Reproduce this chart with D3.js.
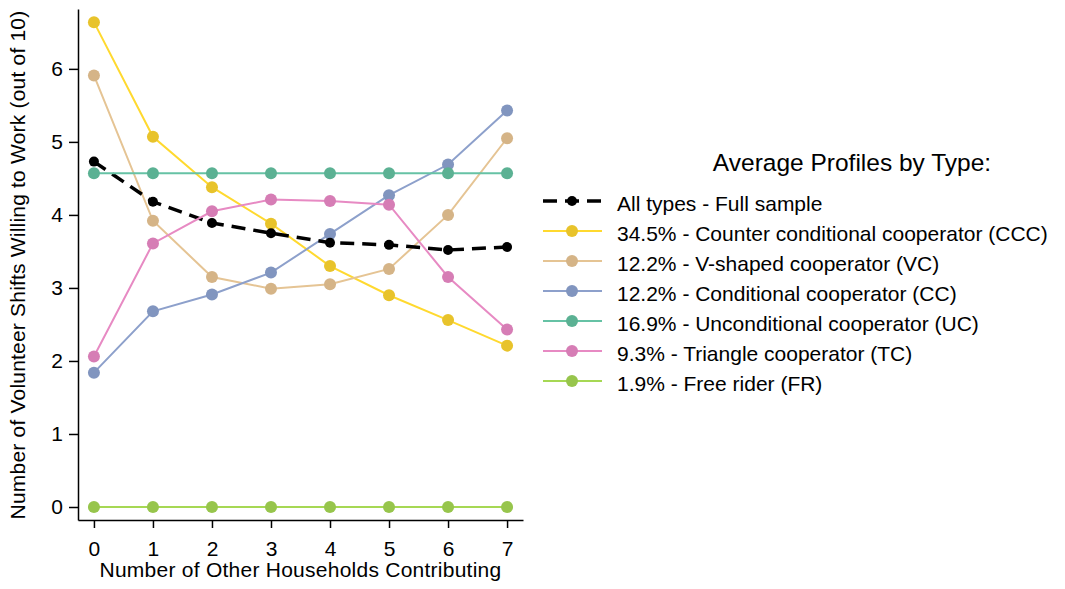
<!DOCTYPE html>
<html><head><meta charset="utf-8">
<script src="https://cdn.jsdelivr.net/npm/d3@7"></script>
<style>body{margin:0;background:#fff}svg{display:block;font-family:"Liberation Sans",Arial,sans-serif}</style>
</head><body><svg id="c" width="1065" height="589"></svg>
<script>
const xValues = [0,1,2,3,4,5,6,7];
const yTicks = [0,1,2,3,4,5,6];
const seriesNames = [
  "All types - Full sample",
  "34.5% - Counter conditional cooperator (CCC)",
  "12.2% - V-shaped cooperator (VC)",
  "12.2% - Conditional cooperator (CC)",
  "16.9% - Unconditional cooperator (UC)",
  "9.3% - Triangle cooperator (TC)",
  "1.9% - Free rider (FR)"
];
const allTypes = [4.73,4.18,3.89,3.75,3.62,3.59,3.52,3.56];
const ccc = [6.64,5.07,4.38,3.88,3.30,2.90,2.56,2.21];
const vc  = [5.91,3.92,3.15,2.99,3.05,3.26,4.00,5.05];
const cc  = [1.84,2.68,2.91,3.21,3.74,4.27,4.69,5.43];
const uc  = [4.57,4.57,4.57,4.57,4.57,4.57,4.57,4.57];
const tc  = [2.06,3.61,4.05,4.21,4.19,4.14,3.15,2.43];
const fr  = [0,0,0,0,0,0,0,0];
const lineColors   = ["#000000","#FFD92F","#E5C494","#8DA0CB","#66C2A5","#E78AC3","#A6D854"];
const markerColors = ["#000000","#E8C32B","#D5B487","#8195BF","#5BB193","#D67DB5","#97C54C"];
const xTitle = "Number of Other Households Contributing";
const yTitle = "Number of Volunteer Shifts Willing to Work (out of 10)";
const legendTitle = "Average Profiles by Type:";

const seriesVals = [allTypes, ccc, vc, cc, uc, tc, fr];
const svg = d3.select("#c");
const x = d3.scaleLinear().domain([-0.27,7.27]).range([78,523]);
const y = d3.scaleLinear().domain([-0.178,6.82]).range([520,9]);

const xa = svg.append("g").attr("transform","translate(0,520)")
  .call(d3.axisBottom(x).tickValues(xValues).tickSize(8).tickSizeOuter(0).tickPadding(13).tickFormat(d3.format("d")));
const ya = svg.append("g").attr("transform","translate(78,0)")
  .call(d3.axisLeft(y).tickValues(yTicks).tickSize(9).tickSizeOuter(0).tickPadding(6).tickFormat(d3.format("d")));
[xa,ya].forEach(a=>{
  a.selectAll("path,line").attr("stroke","#000").attr("stroke-width",1.5);
  a.selectAll("text").attr("font-size",21).attr("fill","#000").attr("font-family","Liberation Sans, Arial, sans-serif");
});

svg.append("text").attr("x",300.5).attr("y",577).attr("text-anchor","middle")
  .attr("font-size",21).attr("letter-spacing",0.25).text(xTitle);
svg.append("text").attr("transform","translate(25,265) rotate(-90)").attr("text-anchor","middle")
  .attr("font-size",21).attr("letter-spacing",0.2).text(yTitle);

const line = d3.line().x((d,i)=>x(xValues[i])).y(d=>y(d));
const order = [1,2,3,0,4,5,6];
order.forEach(k=>{
  const g = svg.append("g");
  g.append("path").datum(seriesVals[k]).attr("d",line).attr("fill","none")
    .attr("stroke",lineColors[k]).attr("stroke-width",k===0?3.5:2)
    .attr("stroke-dasharray",k===0?"14,8":null);
  g.selectAll("circle").data(seriesVals[k]).join("circle")
    .attr("cx",(d,i)=>x(xValues[i])).attr("cy",d=>y(d))
    .attr("r",k===0?5:6).attr("fill",markerColors[k]);
});

// legend
svg.append("text").attr("x",852).attr("y",171).attr("text-anchor","middle")
  .attr("font-size",24.5).text(legendTitle);
const lg = svg.append("g");
seriesNames.forEach((nm,k)=>{
  const cy = 201 + k*30;
  lg.append("line").attr("x1",543).attr("x2",602).attr("y1",cy).attr("y2",cy)
    .attr("stroke",lineColors[k]).attr("stroke-width",k===0?3.5:2)
    .attr("stroke-dasharray",k===0?"14,8":null);
  lg.append("circle").attr("cx",572).attr("cy",cy).attr("r",k===0?5:6).attr("fill",markerColors[k]);
  lg.append("text").attr("x",617).attr("y",cy+10).attr("font-size",21).text(nm);
});
</script></body></html>
